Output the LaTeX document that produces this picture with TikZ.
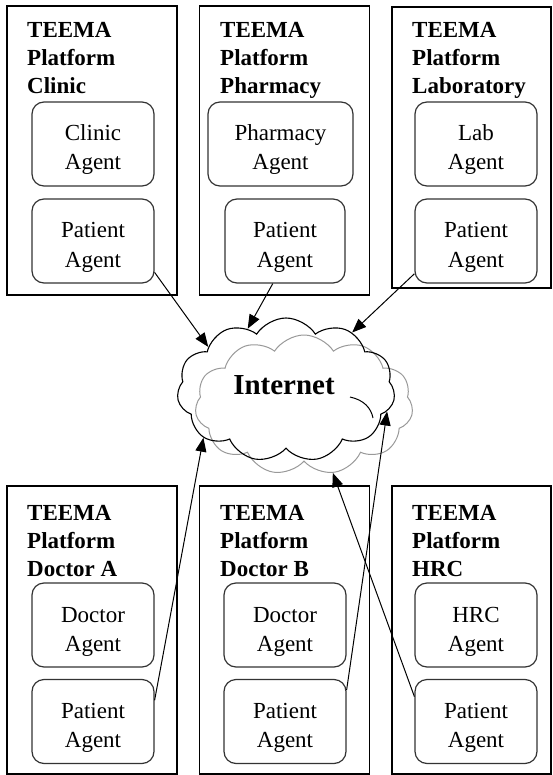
\documentclass[tikz,border=0pt]{standalone}
\usepackage{fontspec}
\setmainfont{Liberation Serif}
\usetikzlibrary{arrows.meta,shapes.symbols}

\begin{document}
\begin{tikzpicture}[x=1pt,y=-1pt,
  platform/.style={draw=black, line width=1.2pt, inner sep=0pt, minimum width=170pt},
  title/.style={anchor=north west, inner sep=0pt, align=left,
    font=\fontsize{23}{28}\selectfont\bfseries},
  agent/.style={draw=black!80, line width=1.2pt, rounded corners=12pt, inner sep=0pt,
    align=center, minimum height=84pt, minimum width=122pt,
    text height=52pt, text depth=0pt,
    font=\fontsize{23}{29}\selectfont},
  link/.style={line width=1pt, -{Triangle[length=14pt,width=11pt]}},
  puffy/.style={cloud, cloud puffs=11, cloud puff arc=115, cloud ignores aspect,
    inner sep=0pt, minimum width=218pt},
]
\useasboundingbox (0,0) rectangle (552,775);

% platform containers
\node[platform, minimum height=289pt] (clinic) at (92,150.5) {};
\node[platform, minimum height=289pt] (pharm)  at (284.5,150.5) {};
\node[platform, minimum width=159pt, minimum height=281pt] (lab) at (471.5,147.5) {};
\node[platform, minimum height=288pt] (docA) at (92,630) {};
\node[platform, minimum height=288pt] (docB) at (284.5,630) {};
\node[platform, minimum width=159pt, minimum height=288pt] (hrc) at (471.5,630) {};

% platform titles
\node[title] (tclinic) at (27,22)  {TEEMA\\Platform\\Clinic};
\node[title] (tpharm)  at (220,22) {TEEMA\\Platform\\Pharmacy};
\node[title] (tlab)    at (412,22) {TEEMA\\Platform\\Laboratory};
\node[title] (tdocA)   at (27,505) {TEEMA\\Platform\\Doctor A};
\node[title] (tdocB)   at (220,505) {TEEMA\\Platform\\Doctor B};
\node[title] (thrc)    at (412,505) {TEEMA\\Platform\\HRC};

% agents
\node[agent] (ca)  at (93,144)   {Clinic\\Agent};
\node[agent] (pa1) at (93,241)   {Patient\\Agent};
\node[agent, minimum width=145pt] (pha) at (280.5,144) {Pharmacy\\Agent};
\node[agent, minimum width=120pt] (pa2) at (285,241) {Patient\\Agent};
\node[agent] (la)  at (476,144)  {Lab\\Agent};
\node[agent] (pa3) at (476,241)  {Patient\\Agent};
\node[agent] (da)  at (93,625)   {Doctor\\Agent};
\node[agent] (pa4) at (93,721.5) {Patient\\Agent};
\node[agent] (db)  at (285,625)  {Doctor\\Agent};
\node[agent] (pa5) at (285,721.5) {Patient\\Agent};
\node[agent] (ha)  at (476,625)  {HRC\\Agent};
\node[agent] (pa6) at (476,721.5) {Patient\\Agent};

% the Internet cloud (light copy behind, dark outline in front)
\node[puffy, draw=black!40, line width=1pt, minimum height=140pt] (back) at (304,405) {};
\node[puffy, draw=black, line width=1.1pt, minimum height=144pt] (inet) at (286,390) {};
\node[inner sep=0pt, font=\fontsize{29}{30}\selectfont\bfseries] (word) at (284,385) {Internet};
% inner curl of the front cloud
\draw[line width=1pt] (350,397) .. controls (364,400) and (371,408) .. (373,418);

% connections
\draw[link] (pa1.-27) -- (inet.151);
\draw[link] (pa2.254) -- (inet.122);
\draw[link] (pa3.208) -- (inet.41);
\draw[link] (pa4.19)  -- (inet.210);
\draw[link] (pa5.27)  -- (inet.-12);
\draw[link] (pa6.158) -- (back.-67);
\end{tikzpicture}
\end{document}
